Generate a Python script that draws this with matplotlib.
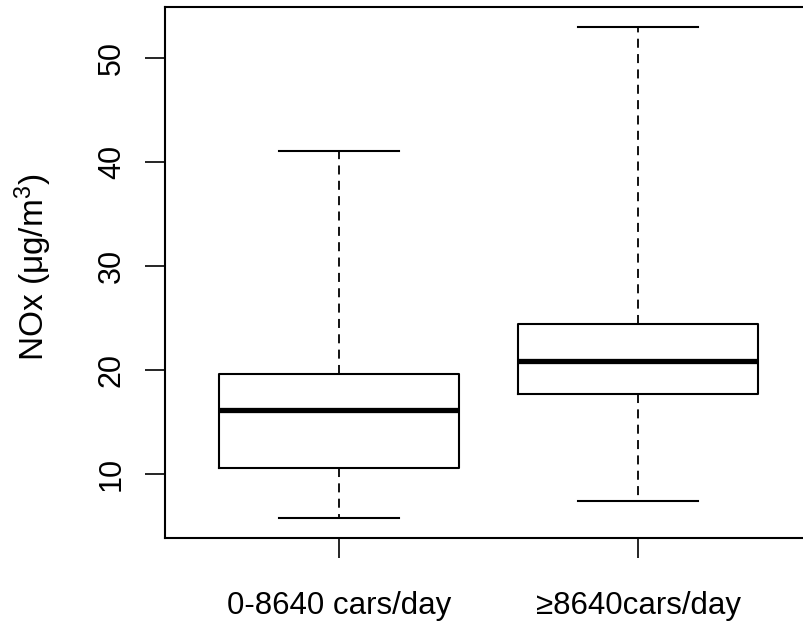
import numpy as np
import matplotlib
matplotlib.use('Agg')
import matplotlib.pyplot as plt

plt.rcParams['font.family'] = ['Liberation Sans', 'DejaVu Sans']
plt.rcParams['mathtext.fontset'] = 'custom'
plt.rcParams['mathtext.rm'] = 'Liberation Sans'
plt.rcParams['mathtext.it'] = 'Liberation Sans'

# categories and box statistics
groups = ['0-8640 cars/day', '\u22658640cars/day']
whis_lo = [5.8, 7.4]
q1s = [10.65, 17.75]
medians = [16.15, 20.9]
q3s = [19.65, 24.4]
whis_hi = [41.0, 52.95]

stats = []
for i in range(len(groups)):
    stats.append({'label': groups[i], 'whislo': whis_lo[i], 'q1': q1s[i],
                  'med': medians[i], 'q3': q3s[i], 'whishi': whis_hi[i],
                  'fliers': []})

fig = plt.figure(figsize=(8.04, 6.22), dpi=100)
ax = fig.add_axes([165/804, 1 - 537.7/622, 647/804, (537.7 - 7.3)/622])

ax.bxp(stats, positions=[1, 2], widths=0.8, capwidths=0.4, showfliers=False,
       boxprops=dict(color='black', linewidth=1.5),
       medianprops=dict(color='black', linewidth=3.8, solid_capstyle='butt'),
       whiskerprops=dict(color='black', linewidth=1.3, linestyle=(0, (5, 3.5))),
       capprops=dict(color='black', linewidth=1.5))

# R style: data range padded by 4%
ymin = min(whis_lo)
ymax = max(whis_hi)
pad = 0.04 * (ymax - ymin)
ax.set_ylim(ymin - pad, ymax + pad)
ax.set_xlim(0.42, 2.58)

ax.set_yticks([10, 20, 30, 40, 50])
ax.tick_params(axis='y', length=14.4, width=1.2, pad=13, labelsize=22, labelrotation=90)
for lab in ax.get_yticklabels():
    lab.set_va('center')
ax.tick_params(axis='x', length=14.4, width=1.2, pad=24, labelsize=22.5)

for s in ax.spines.values():
    s.set_linewidth(1.5)

ax.set_ylabel('NOx (\u03bcg/m$^3$)', fontsize=24)
ax.yaxis.set_label_coords(-0.172, 0.51)

fig.savefig('out.png', dpi=100)
